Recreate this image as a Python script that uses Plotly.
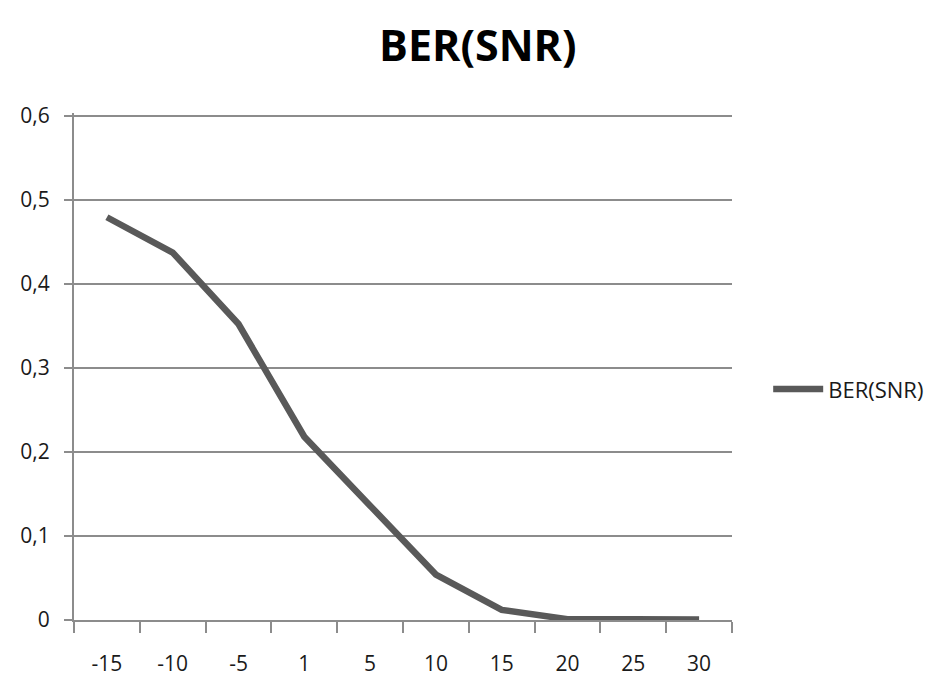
import plotly.graph_objects as go

snr = ["-15", "-10", "-5", "1", "5", "10", "15", "20", "25", "30"]
ber = [0.479, 0.437, 0.352, 0.218, 0.136, 0.054, 0.012, 0.001, 0.001, 0.0005]
y_tickvals = [0, 0.1, 0.2, 0.3, 0.4, 0.5, 0.6]
y_ticktext = ["0", "0,1", "0,2", "0,3", "0,4", "0,5", "0,6"]

font_family = "Open Sans, sans-serif"

fig = go.Figure()
fig.add_trace(go.Scatter(
    x=snr, y=ber, mode="lines", name="BER(SNR)",
    line=dict(color="#595959", width=6.5),
))

fig.update_layout(
    width=934, height=681,
    margin=dict(l=62, r=210, t=105, b=69),
    paper_bgcolor="white", plot_bgcolor="white",
    title=dict(text="<b>BER(SNR)</b>", x=0.503, xanchor="center", y=0.945, yanchor="middle",
               font=dict(family=font_family, size=43, color="black")),
    font=dict(family=font_family, size=21, color="#1a1a1a"),
    showlegend=True,
    legend=dict(x=1.055, y=0.455, xanchor="left", yanchor="middle",
                font=dict(family=font_family, size=22, color="#1a1a1a"),
                bgcolor="rgba(0,0,0,0)", itemwidth=50),
    xaxis=dict(type="category", tickson="boundaries", ticks="outside", ticklen=11,
               tickwidth=2, tickcolor="#8c8c8c", showline=True, linecolor="#8c8c8c",
               linewidth=2, showgrid=False, zeroline=False, range=[-0.5, 9.5],
               tickfont=dict(size=21), ticklabelstandoff=24),
    yaxis=dict(range=[0, 0.603], tickvals=y_tickvals, ticktext=y_ticktext,
               ticks="outside", ticklen=8, tickwidth=2, tickcolor="#8c8c8c",
               showline=True, linecolor="#8c8c8c", linewidth=2,
               showgrid=True, gridcolor="#8c8c8c", gridwidth=2, zeroline=False,
               tickfont=dict(size=21), ticklabelstandoff=10),
)

fig.write_html("out.html")
